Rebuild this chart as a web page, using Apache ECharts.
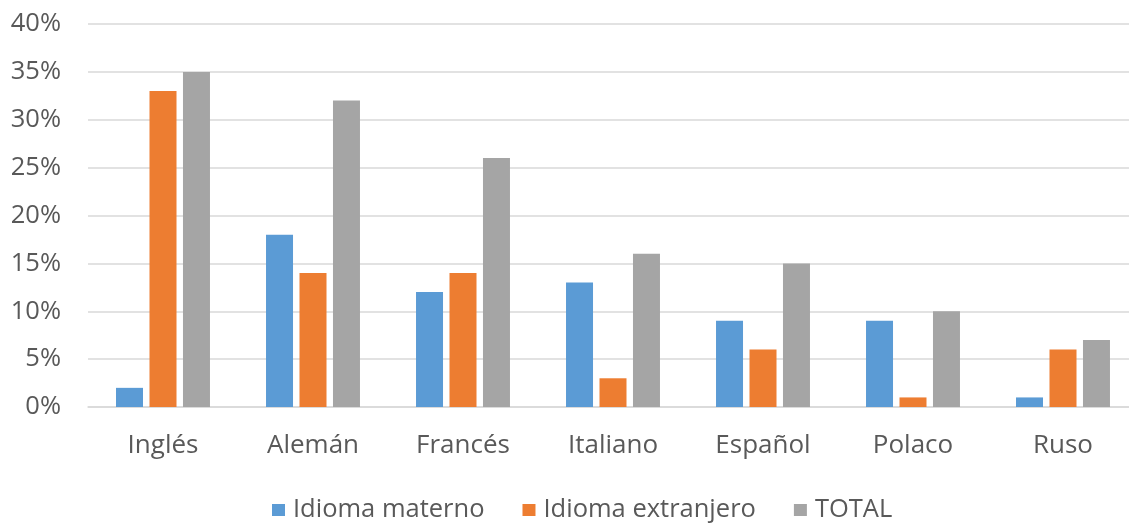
<!DOCTYPE html>
<html><head><meta charset="utf-8">
<script src="https://cdn.jsdelivr.net/npm/echarts@6/dist/echarts.min.js"></script>
<style>html,body{margin:0;padding:0;background:#fff;overflow:hidden}#c{width:1140px;height:524px}</style>
</head><body><div id="c"></div>
<script>
const categories = ['Inglés','Alemán','Francés','Italiano','Español','Polaco','Ruso'];
const materno = [2,18,12,13,9,9,1];
const extranjero = [33,14,14,3,6,1,6];
const total = [35,32,26,16,15,10,7];
const seriesNames = ['Idioma materno','Idioma extranjero','TOTAL'];
const font = '"Open Sans", "Noto Sans", sans-serif';
const chart = echarts.init(document.getElementById('c'));
chart.setOption({
  animation:false,
  color:['#5b9bd5','#ed7d31','#a5a5a5'],
  grid:{left:88, top:24, width:1050, height:383, containLabel:false},
  legend:{top:492, left:267, itemWidth:13, itemHeight:12, itemGap:38, icon:'rect',
    textStyle:{color:'#595959', fontSize:25.5, fontFamily:font, padding:[0,0,0,3]}},
  xAxis:{type:'category', data:categories,
    axisLine:{lineStyle:{color:'#d9d9d9', width:1.5}}, axisTick:{show:false},
    axisLabel:{color:'#595959', fontSize:26, fontFamily:font, margin:26}},
  yAxis:{type:'value', min:0, max:40, interval:5,
    axisLabel:{formatter:'{value}%', color:'#595959', fontSize:25.5, fontFamily:font, margin:27},
    splitLine:{lineStyle:{color:'#d9d9d9', width:1.5}}, axisLine:{show:false}, axisTick:{show:false}},
  series:[
    {name:seriesNames[0], type:'bar', data:materno, barWidth:27, barGap:'24%'},
    {name:seriesNames[1], type:'bar', data:extranjero, barWidth:27, barGap:'24%'},
    {name:seriesNames[2], type:'bar', data:total, barWidth:27, barGap:'24%'}
  ]
});
</script></body></html>
